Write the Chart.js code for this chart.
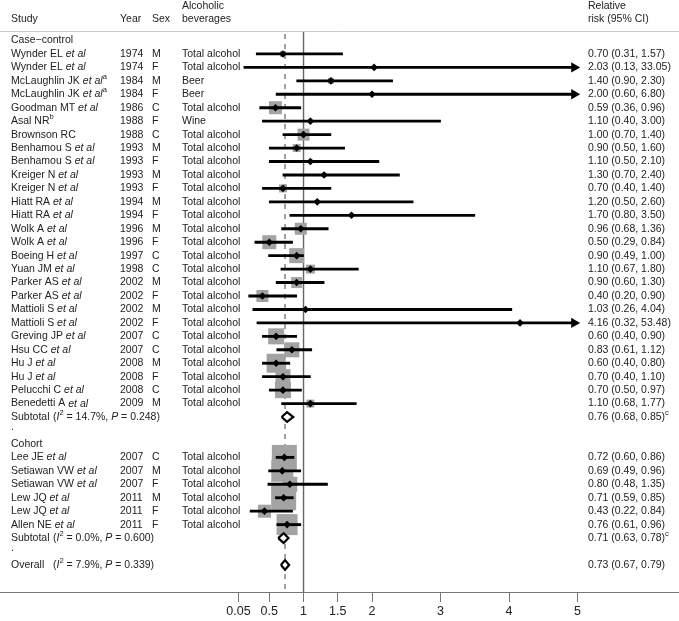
<!DOCTYPE html>
<html><head><meta charset="utf-8">
<script src="https://cdn.jsdelivr.net/npm/chart.js@4.4.1/dist/chart.umd.min.js"></script>
<style>html,body{margin:0;padding:0;background:#fff;}#wrap{width:679px;height:621px;}</style>
</head><body><div id="wrap"><canvas id="c" width="679" height="621"></canvas></div>
<script>
// ---------- DATA ----------
const groupNames = ['Case\u2212control', 'Cohort'];
const studyGroup = [0,0,0,0,0,0,0,0,0,0,0,0,0,0,0,0,0,0,0,0,0,0,0,0,0,0,0, 1,1,1,1,1,1];
const authors = ['Wynder EL','Wynder EL','McLaughlin JK','McLaughlin JK','Goodman MT','Asal NR','Brownson RC',
  'Benhamou S','Benhamou S','Kreiger N','Kreiger N','Hiatt RA','Hiatt RA','Wolk A','Wolk A','Boeing H','Yuan JM',
  'Parker AS','Parker AS','Mattioli S','Mattioli S','Greving JP','Hsu CC','Hu J','Hu J','Pelucchi C','Benedetti A',
  'Lee JE','Setiawan VW','Setiawan VW','Lew JQ','Lew JQ','Allen NE'];
const etAl = [1,1,1,1,1,0,0,1,1,1,1,1,1,1,1,1,1,1,1,1,1,1,1,1,1,1,1, 1,1,1,1,1,1];
const notes = ['','','a','a','','b','','','','','','','','','','','','','','','','','','','','','', '','','','','',''];
const years = ['1974','1974','1984','1984','1986','1988','1988','1993','1993','1993','1993','1994','1994','1996','1996',
  '1997','1998','2002','2002','2002','2002','2007','2007','2008','2008','2008','2009',
  '2007','2007','2007','2011','2011','2011'];
const sexes = ['M','F','M','F','C','F','C','M','F','M','F','M','F','M','F','C','C','M','F','M','F','C','C','M','F','C','M',
  'C','M','F','M','F','F'];
const beverages = ['Total alcohol','Total alcohol','Beer','Beer','Total alcohol','Wine','Total alcohol','Total alcohol',
  'Total alcohol','Total alcohol','Total alcohol','Total alcohol','Total alcohol','Total alcohol','Total alcohol',
  'Total alcohol','Total alcohol','Total alcohol','Total alcohol','Total alcohol','Total alcohol','Total alcohol',
  'Total alcohol','Total alcohol','Total alcohol','Total alcohol','Total alcohol',
  'Total alcohol','Total alcohol','Total alcohol','Total alcohol','Total alcohol','Total alcohol'];
const rr     = [0.70,2.03,1.40,2.00,0.59,1.10,1.00,0.90,1.10,1.30,0.70,1.20,1.70,0.96,0.50,0.90,1.10,0.90,0.40,1.03,4.16,0.60,0.83,0.60,0.70,0.70,1.10, 0.72,0.69,0.80,0.71,0.43,0.76];
const ciLow  = [0.31,0.13,0.90,0.60,0.36,0.40,0.70,0.50,0.50,0.70,0.40,0.50,0.80,0.68,0.29,0.49,0.67,0.60,0.20,0.26,0.32,0.40,0.61,0.40,0.40,0.50,0.68, 0.60,0.49,0.48,0.59,0.22,0.61];
const ciHigh = [1.57,33.05,2.30,6.80,0.96,3.00,1.40,1.60,2.10,2.40,1.40,2.60,3.50,1.36,0.84,1.00,1.80,1.30,0.90,4.04,53.48,0.90,1.12,0.80,1.10,0.97,1.77, 0.86,0.96,1.35,0.85,0.84,0.96];
const weights = [0.66,0.05,0.66,0.07,3.10,0.29,2.64,1.17,0.29,0.29,1.17,0.29,0.07,2.64,3.59,4.12,1.48,2.22,2.64,0.07,0.02,4.69,4.12,6.62,4.12,4.69,1.17, 11.45,8.87,4.12,11.45,3.10,8.08];
const subtotalRR   = [0.76, 0.71];
const subtotalLow  = [0.68, 0.63];
const subtotalHigh = [0.85, 0.78];
const subtotalI2   = ['14.7', '0.0'];
const subtotalP    = ['0.248', '0.600'];
const subtotalNote = ['c', 'c'];
const overallRR = 0.73, overallLow = 0.67, overallHigh = 0.79;
const overallI2 = '7.9', overallP = '0.339';
const tickValues = [0.05, 0.5, 1, 1.5, 2, 3, 4, 5];
const tickLabels = ['0.05', '0.5', '1', '1.5', '2', '3', '4', '5'];

// ---------- LAYOUT ----------
const X_CLIP = 4.95;            // CI lines beyond this end in an arrow
const FF = '"Liberation Sans", Arial, Helvetica, sans-serif';
const FS = 10.5;
const TXT = '#222';
const COL = {study: 11, paren: 53, year: 120, sex: 152, bev: 182, ci: 588};
const HEADER_LINE_Y = 31;
const BOX_SCALE = 7.39;

// assign rows
const studyRow = [], groupRow = [], subtotalRow = [], dotRow = [];
let r = 0;
groupNames.forEach((g, gi) => {
  groupRow[gi] = r++;
  authors.forEach((a, i) => { if (studyGroup[i] === gi) studyRow[i] = r++; });
  subtotalRow[gi] = r++;
  dotRow[gi] = r++;
});
const overallRow = r;

const idx = authors.map((_, i) => i);
const ciData = idx.map(i => ({x: [ciLow[i], Math.min(ciHigh[i], X_CLIP)], y: studyRow[i]}));
const boxData = idx.map(i => ({x: rr[i], y: studyRow[i], w: weights[i]}));
const pointData = idx.map(i => ({x: rr[i], y: studyRow[i]}));
const arrowData = idx.filter(i => ciHigh[i] > X_CLIP).map(i => ({x: X_CLIP, y: studyRow[i]}));
const DH = 0.36;
function diamond(est, lo, hi, row) {
  return [{x: lo, y: row}, {x: est, y: row - DH}, {x: hi, y: row}, {x: est, y: row + DH}, {x: lo, y: row}];
}
const diamondSets = subtotalRR.map((v, gi) => diamond(v, subtotalLow[gi], subtotalHigh[gi], subtotalRow[gi]));
diamondSets.push(diamond(overallRR, overallLow, overallHigh, overallRow));

// ---------- PLUGINS ----------
function drawParts(ctx, parts, x, y) {
  let cx = x;
  for (const p of parts) {
    let dy = 0;
    if (p.s === 'i') ctx.font = `italic ${FS}px ${FF}`;
    else if (p.s === 'sup') { ctx.font = `${FS * 0.72}px ${FF}`; dy = -4; }
    else ctx.font = `${FS}px ${FF}`;
    ctx.fillText(p.t, cx, y + dy);
    cx += ctx.measureText(p.t).width;
  }
  return cx;
}

const refLines = {
  id: 'refLines',
  beforeDatasetsDraw(chart) {
    const {ctx, chartArea, scales} = chart;
    ctx.save();
    ctx.strokeStyle = '#c8c8c8'; ctx.lineWidth = 1;
    ctx.beginPath(); ctx.moveTo(0, HEADER_LINE_Y + 0.5); ctx.lineTo(chart.width, HEADER_LINE_Y + 0.5); ctx.stroke();
    const x1 = scales.x.getPixelForValue(1);
    ctx.strokeStyle = '#666'; ctx.lineWidth = 1.4;
    ctx.beginPath(); ctx.moveTo(x1, HEADER_LINE_Y + 1); ctx.lineTo(x1, chartArea.bottom); ctx.stroke();
    const xo = scales.x.getPixelForValue(overallRR);
    ctx.strokeStyle = '#555'; ctx.lineWidth = 1.1; ctx.setLineDash([5, 5]);
    ctx.beginPath(); ctx.moveTo(xo, HEADER_LINE_Y + 3); ctx.lineTo(xo, chartArea.bottom); ctx.stroke();
    ctx.restore();
  }
};

const textCols = {
  id: 'textCols',
  afterDatasetsDraw(chart) {
    const {ctx, scales} = chart;
    const Y = v => scales.y.getPixelForValue(v);
    ctx.save();
    ctx.fillStyle = TXT; ctx.textBaseline = 'middle'; ctx.textAlign = 'left';
    const h1 = 6, h2 = 19;
    drawParts(ctx, [{t: 'Study'}], COL.study, h2);
    drawParts(ctx, [{t: 'Year'}], COL.year, h2);
    drawParts(ctx, [{t: 'Sex'}], COL.sex, h2);
    drawParts(ctx, [{t: 'Alcoholic'}], COL.bev, h1);
    drawParts(ctx, [{t: 'beverages'}], COL.bev, h2);
    drawParts(ctx, [{t: 'Relative'}], COL.ci, h1);
    drawParts(ctx, [{t: 'risk (95% CI)'}], COL.ci, h2);
    const f2 = v => v.toFixed(2);
    groupNames.forEach((g, gi) => {
      drawParts(ctx, [{t: g}], COL.study, Y(groupRow[gi]));
      const ys = Y(subtotalRow[gi]);
      drawParts(ctx, [{t: 'Subtotal'}], COL.study, ys);
      drawParts(ctx, [{t: '('}, {t: 'I', s: 'i'}, {t: '2', s: 'sup'}, {t: ' = ' + subtotalI2[gi] + '%, '},
        {t: 'P', s: 'i'}, {t: ' = ' + subtotalP[gi] + ')'}], COL.paren, ys);
      drawParts(ctx, [{t: f2(subtotalRR[gi]) + ' (' + f2(subtotalLow[gi]) + ', ' + f2(subtotalHigh[gi]) + ')'},
        {t: subtotalNote[gi], s: 'sup'}], COL.ci, ys);
      drawParts(ctx, [{t: '.'}], COL.study, Y(dotRow[gi]) - 3);
    });
    idx.forEach(i => {
      const y = Y(studyRow[i]);
      const parts = [{t: authors[i] + (etAl[i] ? ' ' : '')}];
      if (etAl[i]) parts.push({t: 'et al', s: 'i'});
      if (notes[i]) parts.push({t: notes[i], s: 'sup'});
      drawParts(ctx, parts, COL.study, y);
      drawParts(ctx, [{t: years[i]}], COL.year, y);
      drawParts(ctx, [{t: sexes[i]}], COL.sex, y);
      drawParts(ctx, [{t: beverages[i]}], COL.bev, y);
      drawParts(ctx, [{t: f2(rr[i]) + ' (' + f2(ciLow[i]) + ', ' + f2(ciHigh[i]) + ')'}], COL.ci, y);
    });
    const yo = Y(overallRow);
    drawParts(ctx, [{t: 'Overall'}], COL.study, yo);
    drawParts(ctx, [{t: '('}, {t: 'I', s: 'i'}, {t: '2', s: 'sup'}, {t: ' = ' + overallI2 + '%, '},
      {t: 'P', s: 'i'}, {t: ' = ' + overallP + ')'}], COL.paren, yo);
    drawParts(ctx, [{t: f2(overallRR) + ' (' + f2(overallLow) + ', ' + f2(overallHigh) + ')'}], COL.ci, yo);
    ctx.restore();
  }
};

// ---------- CHART ----------
const diamondDatasets = diamondSets.map(d => ({
  type: 'line', data: d, borderColor: '#000', borderWidth: 2.2, backgroundColor: '#fff',
  fill: 'shape', pointRadius: 0, tension: 0, order: 1, borderJoinStyle: 'miter'
}));

new Chart(document.getElementById('c'), {
  type: 'scatter',
  data: {
    datasets: [
      {type: 'scatter', data: boxData, pointStyle: 'rect', backgroundColor: '#a3a3a3', borderWidth: 0,
        pointRadius: ctx => BOX_SCALE * Math.sqrt(ctx.raw ? ctx.raw.w : 0) / 1.4142, order: 5},
      {type: 'bar', indexAxis: 'y', data: ciData, backgroundColor: '#000', borderWidth: 0,
        barThickness: 2.2, order: 4},
      {type: 'scatter', data: arrowData, pointStyle: 'triangle', rotation: 90, pointRadius: 6,
        backgroundColor: '#000', borderWidth: 0, order: 3},
      {type: 'scatter', data: pointData, pointStyle: 'rectRot', pointRadius: 3.8,
        backgroundColor: '#000', borderWidth: 0, order: 2},
      ...diamondDatasets
    ]
  },
  options: {
    responsive: false, animation: false,
    layout: {padding: 0, autoPadding: false},
    plugins: {legend: {display: false}, tooltip: {enabled: false}},
    events: [],
    scales: {
      x: {
        type: 'linear', min: -3.43, max: 6.48, position: 'bottom', offset: false,
        afterBuildTicks: s => { s.ticks = tickValues.map(v => ({value: v})); },
        ticks: {autoSkip: false, maxRotation: 0, color: '#222', padding: 2,
          font: {family: FF, size: 12.5}, callback: (v, i) => tickLabels[i]},
        grid: {drawOnChartArea: false, drawTicks: true, tickLength: 10, color: '#777', lineWidth: 1, offset: false},
        border: {display: true, color: '#777', width: 1}
      },
      y: {type: 'linear', reverse: true, min: -3.01, max: 41.01, display: false, offset: false,
        grid: {offset: false}}
    }
  },
  plugins: [refLines, textCols]
});
</script>
</body></html>
